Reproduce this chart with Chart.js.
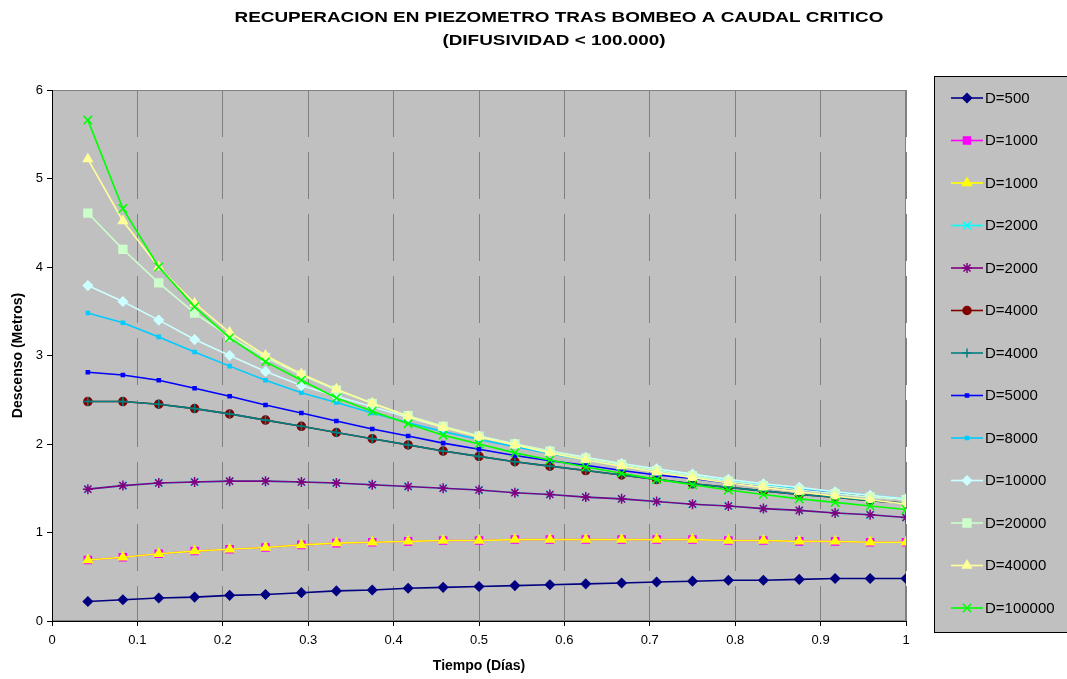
<!DOCTYPE html>
<html>
<head>
<meta charset="utf-8">
<title>Recuperacion en piezometro</title>
<script src="https://cdn.jsdelivr.net/npm/chart.js@4.4.1/dist/chart.umd.min.js"></script>
<style>
  html, body { margin: 0; padding: 0; background: #fff; }
  #chart-canvas { display: block; }
</style>
</head>
<body>
<canvas id="chart-canvas" width="1067" height="679"></canvas>
<script>
const titleLines = [
  "RECUPERACION EN PIEZOMETRO TRAS BOMBEO A CAUDAL CRITICO",
  "(DIFUSIVIDAD < 100.000)"
];
const xTitle = "Tiempo (Días)";
const yTitle = "Descenso (Metros)";
const xTickLabels = ["0", "0.1", "0.2", "0.3", "0.4", "0.5", "0.6", "0.7", "0.8", "0.9", "1"];
const yTickLabels = ["0", "1", "2", "3", "4", "5", "6"];

// tiempo en dias (cada hora)
const tiempo = [0.042, 0.083, 0.125, 0.167, 0.208, 0.25, 0.292, 0.333, 0.375, 0.417, 0.458, 0.5,
  0.542, 0.583, 0.625, 0.667, 0.708, 0.75, 0.792, 0.833, 0.875, 0.917, 0.958, 1];

const seriesNames = ["D=500", "D=1000", "D=1000", "D=2000", "D=2000", "D=4000", "D=4000",
  "D=5000", "D=8000", "D=10000", "D=20000", "D=40000", "D=100000"];

const d500 = [0.22, 0.24, 0.26, 0.27, 0.29, 0.30, 0.32, 0.34, 0.35, 0.37, 0.38, 0.39,
  0.40, 0.41, 0.42, 0.43, 0.44, 0.45, 0.46, 0.46, 0.47, 0.48, 0.48, 0.48];
const d1000a = [0.69, 0.72, 0.76, 0.79, 0.81, 0.83, 0.86, 0.88, 0.89, 0.90, 0.91, 0.91,
  0.92, 0.92, 0.92, 0.92, 0.92, 0.92, 0.91, 0.91, 0.90, 0.90, 0.89, 0.89];
const d1000b = [0.69, 0.72, 0.76, 0.79, 0.81, 0.83, 0.86, 0.88, 0.89, 0.90, 0.91, 0.91,
  0.92, 0.92, 0.92, 0.92, 0.92, 0.92, 0.91, 0.91, 0.90, 0.90, 0.89, 0.89];
const d2000a = [1.49, 1.53, 1.56, 1.57, 1.58, 1.58, 1.57, 1.56, 1.54, 1.52, 1.50, 1.48,
  1.45, 1.43, 1.40, 1.38, 1.35, 1.32, 1.30, 1.27, 1.25, 1.22, 1.20, 1.17];
const d2000b = [1.49, 1.53, 1.56, 1.57, 1.58, 1.58, 1.57, 1.56, 1.54, 1.52, 1.50, 1.48,
  1.45, 1.43, 1.40, 1.38, 1.35, 1.32, 1.30, 1.27, 1.25, 1.22, 1.20, 1.17];
const d4000a = [2.48, 2.48, 2.45, 2.40, 2.34, 2.27, 2.20, 2.13, 2.06, 1.99, 1.92, 1.86,
  1.80, 1.75, 1.70, 1.65, 1.60, 1.55, 1.51, 1.47, 1.43, 1.40, 1.36, 1.33];
const d4000b = [2.48, 2.48, 2.45, 2.40, 2.34, 2.27, 2.20, 2.13, 2.06, 1.99, 1.92, 1.86,
  1.80, 1.75, 1.70, 1.65, 1.60, 1.55, 1.51, 1.47, 1.43, 1.40, 1.36, 1.33];
const d5000 = [2.81, 2.78, 2.72, 2.63, 2.54, 2.44, 2.35, 2.26, 2.17, 2.09, 2.01, 1.94,
  1.87, 1.81, 1.76, 1.70, 1.65, 1.61, 1.56, 1.52, 1.48, 1.45, 1.41, 1.37];
const d8000 = [3.48, 3.37, 3.21, 3.04, 2.88, 2.72, 2.58, 2.47, 2.35, 2.24, 2.14, 2.05,
  1.97, 1.89, 1.82, 1.76, 1.70, 1.64, 1.59, 1.54, 1.50, 1.46, 1.42, 1.38];
const d10000 = [3.79, 3.61, 3.40, 3.18, 3.00, 2.82, 2.66, 2.54, 2.42, 2.30, 2.19, 2.09,
  2.00, 1.92, 1.85, 1.78, 1.72, 1.66, 1.60, 1.55, 1.51, 1.46, 1.42, 1.38];
const d20000 = [4.61, 4.20, 3.82, 3.48, 3.21, 2.98, 2.78, 2.61, 2.46, 2.32, 2.20, 2.09,
  2.00, 1.92, 1.84, 1.77, 1.70, 1.64, 1.58, 1.53, 1.48, 1.44, 1.40, 1.37];
const d40000 = [5.22, 4.52, 4.00, 3.59, 3.26, 3.00, 2.79, 2.62, 2.46, 2.31, 2.19, 2.08,
  1.99, 1.90, 1.82, 1.75, 1.68, 1.62, 1.56, 1.51, 1.46, 1.41, 1.37, 1.32];
const d100000 = [5.66, 4.66, 4.00, 3.55, 3.20, 2.93, 2.72, 2.52, 2.37, 2.23, 2.10, 2.00,
  1.90, 1.82, 1.74, 1.67, 1.60, 1.54, 1.48, 1.43, 1.38, 1.34, 1.30, 1.26];

const seriesValues = [d500, d1000a, d1000b, d2000a, d2000b, d4000a, d4000b,
  d5000, d8000, d10000, d20000, d40000, d100000];

// estilo de cada serie: color, marcador, radio
const seriesStyles = [
  { color: "#000080", marker: "rectRot", radius: 4.5 },
  { color: "#FF00FF", marker: "rect", radius: 5 },
  { color: "#FFFF00", marker: "triangle", radius: 5 },
  { color: "#00FFFF", marker: "crossRot", radius: 5.5 },
  { color: "#800080", marker: "star", radius: 5 },
  { color: "#800000", marker: "circle", radius: 4 },
  { color: "#008080", marker: "cross", radius: 4.5 },
  { color: "#0000FF", marker: "rect", radius: 2.2 },
  { color: "#00CCFF", marker: "rect", radius: 2.2 },
  { color: "#CCFFFF", marker: "rectRot", radius: 4.5 },
  { color: "#CCFFCC", marker: "rect", radius: 5.5 },
  { color: "#FFFF99", marker: "triangle", radius: 5 },
  { color: "#00FF00", marker: "crossRot", radius: 6 }
];

const fontFamily = "'Liberation Sans', Arial, sans-serif";
Chart.defaults.font.family = fontFamily;
Chart.defaults.color = "#000";

const datasets = seriesNames.map((name, i) => {
  const st = seriesStyles[i];
  return {
    label: name,
    data: tiempo.map((t, k) => ({ x: t, y: seriesValues[i][k] })),
    borderColor: st.color,
    backgroundColor: st.color,
    borderWidth: 1.6,
    pointStyle: st.marker,
    pointRadius: st.radius,
    pointHoverRadius: st.radius,
    pointBorderWidth: 1.5,
    pointBorderColor: st.color,
    pointBackgroundColor: st.color,
    tension: 0,
    order: seriesNames.length - i
  };
});

const plotBackground = {
  id: "plotBackground",
  beforeDraw(chart) {
    const { ctx, chartArea: a } = chart;
    ctx.save();
    ctx.fillStyle = "#C0C0C0";
    ctx.fillRect(a.left, a.top, a.right - a.left, a.bottom - a.top);
    ctx.strokeStyle = "#808080";
    ctx.lineWidth = 1;
    ctx.strokeRect(a.left + 0.5, a.top + 0.5, a.right - a.left - 1, a.bottom - a.top - 1);
    ctx.restore();
  }
};

// el titulo del original esta algo estirado en horizontal
const chartTitle = {
  id: "chartTitle",
  afterDraw(chart) {
    const ctx = chart.ctx;
    ctx.save();
    ctx.fillStyle = "#000";
    ctx.font = "bold 15px " + fontFamily;
    ctx.textAlign = "center";
    ctx.textBaseline = "middle";
    const sx = 1.26;
    ctx.scale(sx, 1);
    ctx.fillText(titleLines[0], 559 / sx, 18);
    ctx.fillText(titleLines[1], 554 / sx, 41);
    ctx.restore();
  }
};

const excelLegend = {
  id: "excelLegend",
  afterDraw(chart) {
    const ctx = chart.ctx;
    const boxLeft = 934.5, boxTop = 76.5, boxBottom = 632.5;
    ctx.save();
    ctx.fillStyle = "#C0C0C0";
    ctx.fillRect(boxLeft, boxTop, 1080 - boxLeft, boxBottom - boxTop);
    ctx.strokeStyle = "#000";
    ctx.lineWidth = 1;
    ctx.strokeRect(boxLeft, boxTop, 1080 - boxLeft, boxBottom - boxTop);
    const step = (608 - 98) / 12;
    chart.data.datasets.forEach((ds, i) => {
      const y = 98 + step * i;
      ctx.strokeStyle = ds.borderColor;
      ctx.lineWidth = 1.6;
      ctx.beginPath();
      ctx.moveTo(951, y);
      ctx.lineTo(983, y);
      ctx.stroke();
      ctx.fillStyle = ds.pointBackgroundColor;
      ctx.strokeStyle = ds.pointBorderColor;
      ctx.lineWidth = ds.pointBorderWidth;
      if (Chart.helpers && Chart.helpers.drawPoint) {
        Chart.helpers.drawPoint(ctx, {
          pointStyle: ds.pointStyle,
          radius: ds.pointRadius,
          rotation: 0,
          borderWidth: ds.pointBorderWidth
        }, 967, y);
      }
      ctx.fillStyle = "#000";
      ctx.font = "15px " + fontFamily;
      ctx.textAlign = "left";
      ctx.textBaseline = "middle";
      ctx.fillText(ds.label, 985, y + 0.5);
    });
    ctx.restore();
  }
};

const chartCanvas = document.getElementById("chart-canvas");

new Chart(chartCanvas, {
  type: "line",
  data: { datasets: datasets },
  options: {
    responsive: false,
    animation: false,
    devicePixelRatio: 1,
    layout: { padding: { top: 90, right: 161, left: 0, bottom: 0 } },
    plugins: {
      legend: { display: false },
      title: { display: false },
      tooltip: { enabled: false }
    },
    scales: {
      x: {
        type: "linear",
        min: 0,
        max: 1,
        afterFit(scale) { scale.height = 58; },
        ticks: {
          stepSize: 0.1,
          padding: 7,
          maxRotation: 0,
          autoSkip: false,
          font: { size: 13 },
          color: "#000",
          callback: (v, i) => xTickLabels[i]
        },
        grid: {
          drawOnChartArea: true,
          drawTicks: true,
          tickLength: 5,
          tickColor: "#000",
          tickBorderDash: [],
          color: (c) => (c.tick && c.tick.value === 0 ? "rgba(0,0,0,0)" : "#808080"),
          lineWidth: 1
        },
        border: { color: "#000", width: 1, dash: [47, 15] },
        title: {
          display: true,
          text: xTitle,
          font: { size: 14, weight: "bold" },
          color: "#000",
          padding: { top: 0, bottom: 4 }
        }
      },
      y: {
        type: "linear",
        min: 0,
        max: 6,
        afterFit(scale) { scale.width = 52; },
        ticks: {
          stepSize: 1,
          padding: 4,
          font: { size: 13 },
          color: "#000",
          callback: (v, i) => yTickLabels[i]
        },
        grid: {
          drawOnChartArea: false,
          drawTicks: true,
          tickLength: 5,
          tickColor: "#000"
        },
        border: { color: "#000", width: 1 },
        title: {
          display: true,
          text: yTitle,
          font: { size: 14, weight: "bold" },
          color: "#000",
          padding: { top: 10, bottom: 0 }
        }
      }
    }
  },
  plugins: [plotBackground, chartTitle, excelLegend]
});
</script>
</body>
</html>
